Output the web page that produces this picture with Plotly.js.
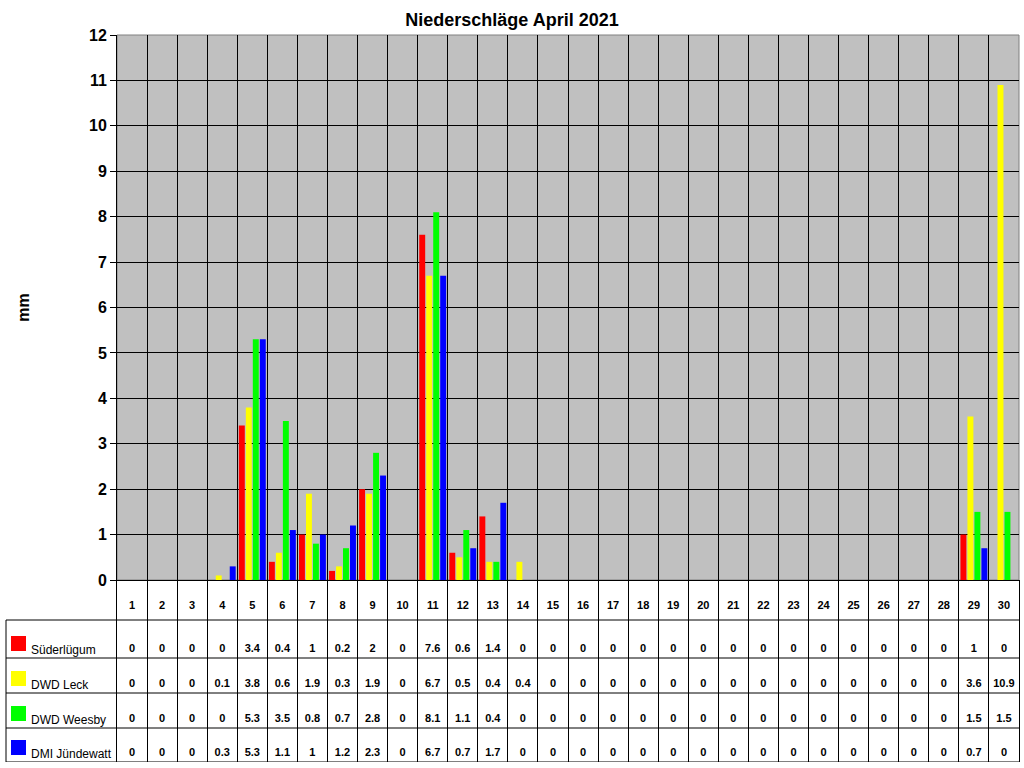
<!DOCTYPE html>
<html>
<head>
<meta charset="utf-8">
<script src="https://cdn.plot.ly/plotly-3.0.1.min.js"></script>
<style>
html, body { margin: 0; padding: 0; background: #ffffff; }
#chart { width: 1024px; height: 768px; }
</style>
</head>
<body>
<div id="chart"></div>
<script>
// Niederschläge April 2021, mm pro Tag
const days = ['1','2','3','4','5','6','7','8','9','10','11','12','13','14','15',
              '16','17','18','19','20','21','22','23','24','25','26','27','28','29','30'];
const stations = ['Süderlügum', 'DWD Leck', 'DWD Weesby', 'DMI Jündewatt'];
const stationColors = ['#ff0000', '#ffff00', '#00ff00', '#0000ff'];

const suederluegum = [0,0,0,0,3.4,0.4,1,0.2,2,0,7.6,0.6,1.4,0,0,0,0,0,0,0,0,0,0,0,0,0,0,0,1,0];
const leck         = [0,0,0,0.1,3.8,0.6,1.9,0.3,1.9,0,6.7,0.5,0.4,0.4,0,0,0,0,0,0,0,0,0,0,0,0,0,0,3.6,10.9];
const weesby       = [0,0,0,0,5.3,3.5,0.8,0.7,2.8,0,8.1,1.1,0.4,0,0,0,0,0,0,0,0,0,0,0,0,0,0,0,1.5,1.5];
const juendewatt   = [0,0,0,0.3,5.3,1.1,1,1.2,2.3,0,6.7,0.7,1.7,0,0,0,0,0,0,0,0,0,0,0,0,0,0,0,0.7,0];

const series = [suederluegum, leck, weesby, juendewatt];

// page geometry (px)
const W = 1024, H = 768;
const mL = 6, mR = 5, mT = 35, mB = 6;
const plotW = W - mL - mR;
const plotH = H - mT - mB;
const tableH = 182;                       // table below the bars
const rowLines = [40, 78, 113, 148, 182]; // row borders, px below the x axis
const fontName = 'Liberation Sans, Arial, sans-serif';
const tableFont = { family: fontName, size: 11, color: '#000000', weight: 'bold' };

const px = (x) => (x - mL) / plotW;

const traces = [];

series.forEach((vals, i) => {
    traces.push({
        type: 'bar',
        x: days,
        y: vals,
        name: stations[i],
        marker: { color: stationColors[i], line: { width: 0 } },
        xaxis: 'x',
        yaxis: 'y',
        hovertemplate: '%{x}: %{y} mm<extra>' + stations[i] + '</extra>'
    });
});

// table header: day numbers
traces.push({
    type: 'scatter',
    mode: 'text',
    x: days,
    y: days.map(() => rowLines[0] - 14),
    text: days,
    textfont: tableFont,
    xaxis: 'x',
    yaxis: 'y2',
    hoverinfo: 'skip',
    showlegend: false
});

// table rows: values per station
series.forEach((vals, i) => {
    traces.push({
        type: 'scatter',
        mode: 'text',
        x: days,
        y: days.map(() => rowLines[i + 1] - 9),
        text: vals.map(String),
        textfont: tableFont,
        xaxis: 'x',
        yaxis: 'y2',
        hoverinfo: 'skip',
        showlegend: false
    });
});

const shapes = [
    { type: 'rect', xref: 'x domain', yref: 'y domain', x0: 0, x1: 1, y0: 0, y1: 1,
      fillcolor: '#c0c0c0', line: { color: '#808080', width: 1 }, layer: 'below' },
    { type: 'line', xref: 'paper', yref: 'y2', x0: 0, x1: 0, y0: rowLines[0], y1: rowLines[4],
      line: { color: '#000000', width: 1 } }
];
rowLines.forEach((r) => {
    shapes.push({ type: 'line', xref: 'paper', yref: 'y2', x0: 0, x1: 1, y0: r, y1: r,
                  line: { color: '#000000', width: 1 } });
});

const annotations = [];
stations.forEach((name, i) => {
    const bottom = rowLines[i + 1];
    shapes.push({ type: 'rect', xref: 'paper', yref: 'y2',
                  x0: px(11), x1: px(26), y0: bottom - 22, y1: bottom - 7,
                  fillcolor: stationColors[i], line: { width: 0 } });
    annotations.push({ xref: 'paper', yref: 'y2', x: px(29), y: bottom - 8,
                       xanchor: 'left', yanchor: 'middle', showarrow: false,
                       text: name, font: { family: fontName, size: 12, color: '#000000' } });
});

const layout = {
    width: W,
    height: H,
    margin: { l: mL, r: mR, t: mT, b: mB },
    paper_bgcolor: '#ffffff',
    plot_bgcolor: 'rgba(0,0,0,0)',
    showlegend: false,
    barmode: 'group',
    bargap: 0.07,
    bargroupgap: 0.15,
    title: {
        text: '<b>Niederschläge April 2021</b>',
        font: { family: fontName, size: 18, color: '#000000' },
        x: 0.5, xanchor: 'center', y: 1 - 20 / H, yanchor: 'middle'
    },
    xaxis: {
        type: 'category',
        domain: [px(117), 1],
        range: [-0.5, 29.5],
        tickson: 'boundaries',
        showgrid: true,
        gridcolor: '#000000',
        gridwidth: 1,
        showticklabels: false,
        ticks: '',
        showline: true,
        linecolor: '#000000',
        zeroline: false,
        anchor: 'y',
        fixedrange: true
    },
    yaxis: {
        domain: [tableH / plotH, 1],
        range: [0, 12],
        dtick: 1,
        showgrid: true,
        gridcolor: '#000000',
        gridwidth: 1,
        ticks: 'outside',
        ticklen: 6,
        tickcolor: '#000000',
        tickfont: { family: fontName, size: 16, color: '#000000', weight: 'bold' },
        showline: true,
        linecolor: '#000000',
        zeroline: false,
        anchor: 'x',
        fixedrange: true,
        title: {
            text: '<b>mm</b>',
            font: { family: fontName, size: 16, color: '#000000' },
            standoff: 55
        }
    },
    yaxis2: {
        domain: [0, tableH / plotH],
        range: [tableH, 0],
        showgrid: false,
        zeroline: false,
        showticklabels: false,
        ticks: '',
        showline: true,
        mirror: true,
        linecolor: '#000000',
        anchor: 'x',
        fixedrange: true
    },
    shapes: shapes,
    annotations: annotations
};

Plotly.newPlot('chart', traces, layout, { displayModeBar: false, responsive: false });
</script>
</body>
</html>
